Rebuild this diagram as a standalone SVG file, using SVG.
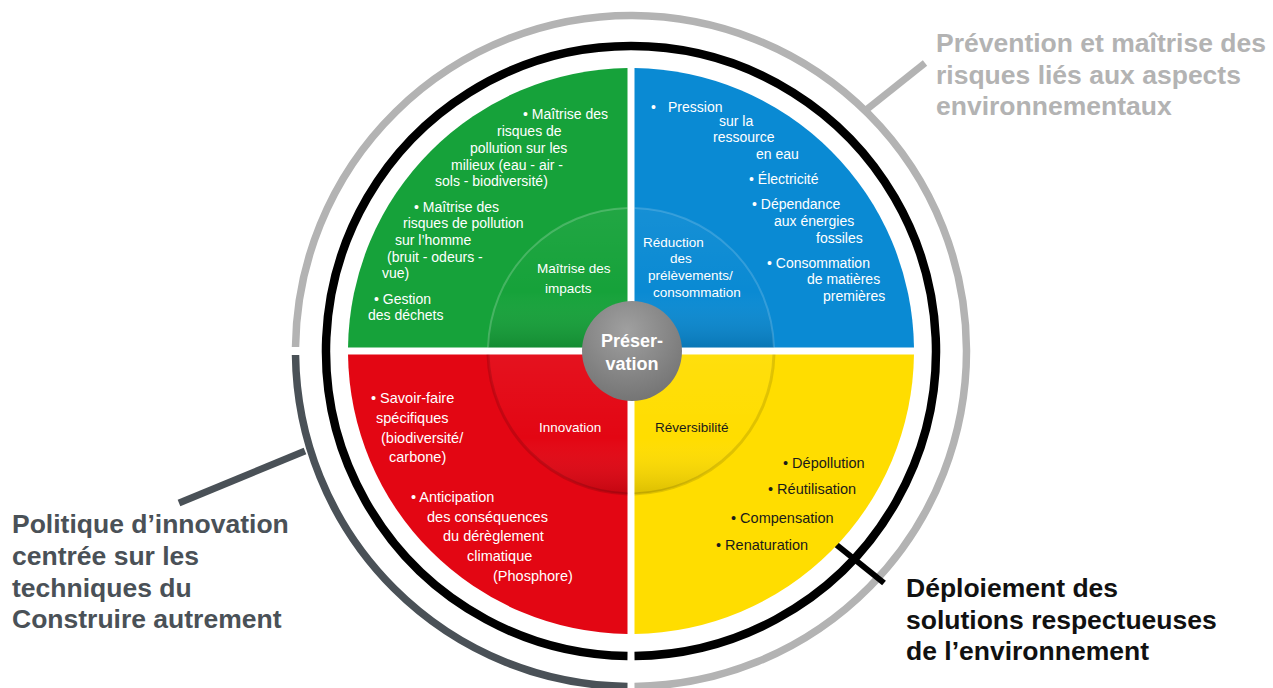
<svg xmlns="http://www.w3.org/2000/svg" width="1273" height="688" viewBox="0 0 1273 688">
<style>
  .t { font-family: "Liberation Sans", Arial, sans-serif; font-size: 14px; fill: #ffffff; }
  .tl { font-size: 14.5px; }
  .ti { font-size: 13.5px; }
  .dk { fill: #1a1a1a; }
  .big { font-family: "Liberation Sans", Arial, sans-serif; font-weight: bold; font-size: 26.5px; }
  .ctr { font-family: "Liberation Sans", Arial, sans-serif; font-weight: bold; font-size: 18px; fill: #ffffff; text-anchor: middle; }
  .ring { fill: none; }
</style>
<defs>
  <linearGradient id="bevel" x1="0" y1="0" x2="0" y2="1">
    <stop offset="0" stop-color="#ffffff" stop-opacity="0.05"/>
    <stop offset="0.6" stop-color="#ffffff" stop-opacity="0"/>
    <stop offset="1" stop-color="#000000" stop-opacity="0.14"/>
  </linearGradient>
  <radialGradient id="hub" cx="0.45" cy="0.3" r="0.75">
    <stop offset="0" stop-color="#a0a0a0"/>
    <stop offset="1" stop-color="#727272"/>
  </radialGradient>
</defs>

<g id="rings">
  <path class="ring" d="M634.5,686.48 A335.5,335.5 0 1 0 295.52,347" stroke="#b3b3b3" stroke-width="7.5"/>
  <path class="ring" d="M295.52,355 A335.5,335.5 0 0 0 627.5,686.48" stroke="#4a5157" stroke-width="7.5"/>
  <path class="ring" d="M634.5,655.98 A305,305 0 1 0 627.5,655.98" stroke="#000000" stroke-width="8.5"/>
</g>

<g id="connectors" stroke-linecap="butt">
  <line x1="866" y1="110" x2="925" y2="63" stroke="#b3b3b3" stroke-width="7"/>
  <line x1="305" y1="451" x2="179" y2="503" stroke="#4a5157" stroke-width="7"/>
  <line x1="828" y1="538" x2="884" y2="583" stroke="#000000" stroke-width="6"/>
</g>

<g id="q-green">
  <path d="M627.5,347.5 L627.5,68.02 A283,283 0 0 0 348.02,347.5 Z" fill="#16a23a"/>
  <path d="M627.5,347.5 L627.5,208.04 A143,143 0 0 0 488.04,347.5 Z" fill="url(#bevel)"/>
  <path d="M627.5,208.04 A143,143 0 0 0 488.04,347.5" fill="none" stroke="#ffffff" stroke-opacity="0.2" stroke-width="2"/>
  <text class="t" x="523" y="119">• Maîtrise des</text>
  <text class="t" x="497" y="136">risques de</text>
  <text class="t" x="470" y="153">pollution sur les</text>
  <text class="t" x="451" y="170">milieux (eau - air -</text>
  <text class="t" x="435" y="186">sols - biodiversité)</text>
  <text class="t" x="414" y="212">• Maîtrise des</text>
  <text class="t" x="403" y="228">risques de pollution</text>
  <text class="t" x="395" y="245">sur l’homme</text>
  <text class="t" x="387" y="262">(bruit - odeurs -</text>
  <text class="t" x="382" y="278">vue)</text>
  <text class="t" x="374" y="304">• Gestion</text>
  <text class="t" x="368" y="320">des déchets</text>
  <text class="t ti" x="537" y="273">Maîtrise des</text>
  <text class="t ti" x="545" y="293">impacts</text>
</g>

<g id="q-blue">
  <path d="M634.5,347.5 L913.98,347.5 A283,283 0 0 0 634.5,68.02 Z" fill="#0a8ad3"/>
  <path d="M634.5,347.5 L773.96,347.5 A143,143 0 0 0 634.5,208.04 Z" fill="url(#bevel)"/>
  <path d="M773.96,347.5 A143,143 0 0 0 634.5,208.04" fill="none" stroke="#ffffff" stroke-opacity="0.16" stroke-width="2"/>
  <text class="t" x="651" y="112">•</text>
  <text class="t" x="668" y="112">Pression</text>
  <text class="t" x="719" y="126">sur la</text>
  <text class="t" x="713" y="142">ressource</text>
  <text class="t" x="756" y="159">en eau</text>
  <text class="t" x="749" y="184">• Électricité</text>
  <text class="t" x="752" y="209">• Dépendance</text>
  <text class="t" x="774" y="226">aux énergies</text>
  <text class="t" x="816" y="243">fossiles</text>
  <text class="t" x="767" y="268">• Consommation</text>
  <text class="t" x="807" y="284">de matières</text>
  <text class="t" x="823" y="301">premières</text>
  <text class="t ti" x="643" y="247">Réduction</text>
  <text class="t ti" x="670" y="263">des</text>
  <text class="t ti" x="648" y="280">prélèvements/</text>
  <text class="t ti" x="653" y="297">consommation</text>
</g>

<g id="q-red">
  <path d="M627.5,354.5 L348.02,354.5 A283,283 0 0 0 627.5,633.98 Z" fill="#e30613"/>
  <path d="M627.5,354.5 L488.04,354.5 A143,143 0 0 0 627.5,493.96 Z" fill="url(#bevel)"/>
  <path d="M488.04,354.5 A143,143 0 0 0 627.5,493.96" fill="none" stroke="#000000" stroke-opacity="0.14" stroke-width="3"/>
  <text class="t tl" x="371" y="403">• Savoir-faire</text>
  <text class="t tl" x="376" y="423">spécifiques</text>
  <text class="t tl" x="381" y="443">(biodiversité/</text>
  <text class="t tl" x="389" y="462">carbone)</text>
  <text class="t tl" x="411" y="502">• Anticipation</text>
  <text class="t tl" x="427" y="522">des conséquences</text>
  <text class="t tl" x="443" y="541">du dérèglement</text>
  <text class="t tl" x="467" y="561">climatique</text>
  <text class="t tl" x="493" y="581">(Phosphore)</text>
  <text class="t ti" x="539" y="432">Innovation</text>
</g>

<g id="q-yellow">
  <path d="M634.5,354.5 L634.5,633.98 A283,283 0 0 0 913.98,354.5 Z" fill="#ffdd00"/>
  <path d="M634.5,354.5 L634.5,493.96 A143,143 0 0 0 773.96,354.5 Z" fill="url(#bevel)"/>
  <path d="M634.5,493.96 A143,143 0 0 0 773.96,354.5" fill="none" stroke="#000000" stroke-opacity="0.12" stroke-width="3"/>
  <text class="t tl dk" x="783" y="468">• Dépollution</text>
  <text class="t tl dk" x="768" y="494">• Réutilisation</text>
  <text class="t tl dk" x="731" y="523">• Compensation</text>
  <text class="t tl dk" x="716" y="550">• Renaturation</text>
  <text class="t ti dk" x="655" y="432">Réversibilité</text>
</g>

<g id="hub-node">
  <circle cx="632" cy="351" r="50" fill="url(#hub)"/>
  <text class="ctr" x="632" y="347">Préser-</text>
  <text class="ctr" x="632" y="370">vation</text>
</g>

<g id="label-prevention">
  <text class="big" fill="#b3b3b3"><tspan x="936" y="52">Prévention et maîtrise des</tspan><tspan x="936" y="84">risques liés aux aspects</tspan><tspan x="936" y="115">environnementaux</tspan></text>
</g>
<g id="label-politique">
  <text class="big" fill="#4a5157"><tspan x="12" y="533">Politique d’innovation</tspan><tspan x="12" y="565">centrée sur les</tspan><tspan x="12" y="597">techniques du</tspan><tspan x="12" y="628">Construire autrement</tspan></text>
</g>
<g id="label-deploiement">
  <text class="big" fill="#111111"><tspan x="906" y="597">Déploiement des</tspan><tspan x="906" y="629">solutions respectueuses</tspan><tspan x="906" y="660">de l’environnement</tspan></text>
</g>
</svg>
